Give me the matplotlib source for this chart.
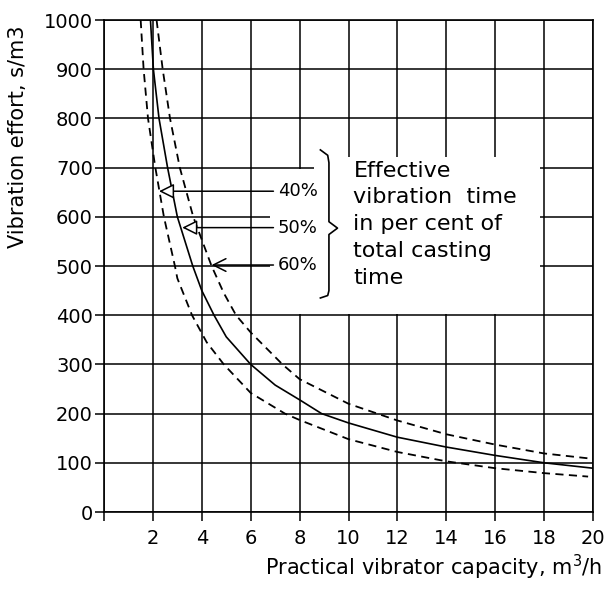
import matplotlib
matplotlib.use("Agg")
import matplotlib.pyplot as plt
from matplotlib.patches import Rectangle

# values: capacity (m3/h) vs vibration effort (s/m3)
cap_40 = [1.50, 1.62, 1.80, 2.10, 2.45, 2.90, 3.00, 3.60, 4.20, 4.90, 6.0, 7.4, 8.0, 10, 12, 14, 16, 18, 19.8]
eff_40 = [1000, 900, 800, 700, 600, 500, 475, 400, 345, 300, 242, 200, 187, 148, 122, 103, 89, 79, 72]

cap_50 = [1.90, 2.02, 2.25, 2.60, 3.00, 3.63, 4.00, 4.50, 5.0, 6.0, 7.0, 8.0, 8.9, 10, 12, 14, 16, 18, 20]
eff_50 = [1000, 900, 800, 700, 600, 500, 450, 400, 356, 300, 258, 228, 200, 181, 152, 132, 115, 100, 89]

cap_60 = [2.15, 2.40, 2.70, 3.10, 3.65, 4.40, 4.90, 5.40, 6.0, 7.3, 8.0, 10, 12, 14, 16, 18, 20]
eff_60 = [1000, 900, 800, 700, 600, 500, 445, 400, 365, 300, 270, 220, 186, 158, 137, 119, 108]

pct_labels = ["40%", "50%", "60%"]
arrow_tips = [(2.25, 652), (3.2, 578), (4.4, 502)]

x_ticks = list(range(0, 21, 2))
y_ticks = list(range(0, 1001, 100))

plt.rcParams['font.family'] = ['DejaVu Sans']

fig = plt.figure(figsize=(6.06, 5.89), dpi=100)
ax = fig.add_axes([104/606, 1 - 512/589, (593-104)/606, (512-20)/589])

ax.set_xlim(0, 20)
ax.set_ylim(0, 1000)
ax.set_xticks(x_ticks)
ax.set_xticklabels(['' if t == 0 else str(t) for t in x_ticks])
ax.set_yticks(y_ticks)
ax.tick_params(axis='x', direction='out', length=6.5, width=1.1, pad=6, labelsize=14)
ax.tick_params(axis='y', direction='out', length=6.5, width=1.1, pad=1.5, labelsize=14)

ax.set_axisbelow(True)
ax.grid(True, color='black', lw=1.1)
for s in ax.spines.values():
    s.set_linewidth(1.2)

# blank area for the note (grid is cut out there)
ax.add_patch(Rectangle((6.8, 402), 17.85 - 6.8, 697 - 402, fc='white', ec='none', zorder=1))
ax.add_patch(Rectangle((8.6, 690), 17.85 - 8.6, 722 - 690, fc='white', ec='none', zorder=1))

ax.plot(cap_40, eff_40, color='black', lw=1.3, dashes=(4.5, 3), zorder=3)
ax.plot(cap_50, eff_50, color='black', lw=1.2, zorder=3)
ax.plot(cap_60, eff_60, color='black', lw=1.3, dashes=(4.5, 3), zorder=3)

styles = ['-|>', '-|>', '->']
for lab, tip, st in zip(pct_labels, arrow_tips, styles):
    ax.annotate(lab, xy=tip, xytext=(7.1, tip[1]), ha='left', va='center', fontsize=13,
                zorder=4,
                arrowprops=dict(arrowstyle=st + ',head_length=0.7,head_width=0.35',
                                color='black', fc='white', lw=1.1,
                                relpos=(0, 0.5), shrinkA=1, shrinkB=0))

# curly bracket
bx = [8.85, 9.15, 9.2, 9.2, 9.55, 9.2, 9.2, 9.15, 8.85]
by = [736, 725, 710, 590, 577, 564, 450, 440, 435]
ax.plot(bx, by, color='black', lw=1.2, zorder=4)

ax.text(10.2, 714, "Effective\nvibration  time\nin per cent of\ntotal casting\ntime",
        ha='left', va='top', fontsize=16, linespacing=1.42, zorder=4)

fig.text(602/606, 1 - 567/589, "Practical vibrator capacity, m$^3$/h",
         ha='right', va='center', fontsize=15)
fig.text(18/606, 1 - 137/589, "Vibration effort, s/m3", rotation=90,
         ha='center', va='center', fontsize=15)

fig.savefig("out.png", dpi=100)
